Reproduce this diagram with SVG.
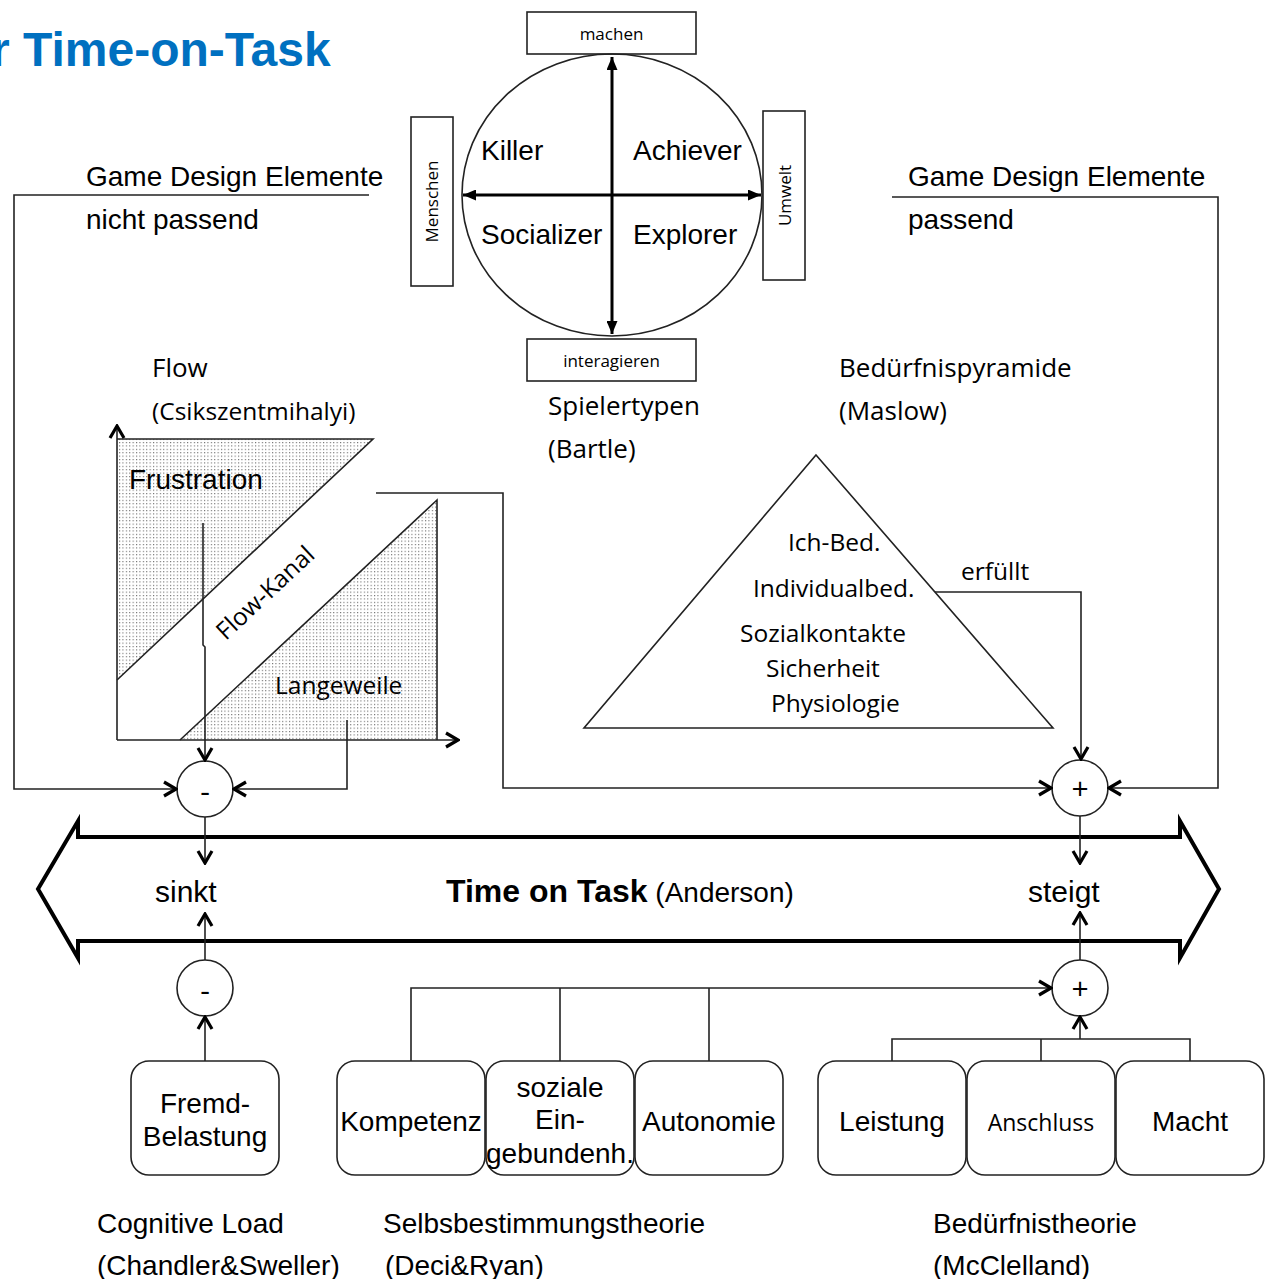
<svg xmlns="http://www.w3.org/2000/svg" width="1274" height="1279" viewBox="0 0 1274 1279">
<style>
.a{font-family:"Liberation Sans",Arial,sans-serif;font-size:28px;fill:#000}
.c{font-family:"Open Sans",sans-serif;font-size:24.5px;fill:#000}
.h{font-family:"Open Sans",sans-serif;font-size:26px;fill:#000}
.s{font-family:"Open Sans",sans-serif;font-size:17px;fill:#000}
.op{font-family:"Open Sans",sans-serif;font-size:30px;fill:#000;text-anchor:middle}
.ln{stroke:#222;stroke-width:1.6;fill:none}
.bx{fill:#fff;stroke:#222;stroke-width:1.6}
.mid{text-anchor:middle}
</style>
<defs>
<marker id="chev" viewBox="0 0 16 18" refX="14" refY="9" markerWidth="16" markerHeight="18" markerUnits="userSpaceOnUse" orient="auto">
<path d="M2,2 L14,9 L2,16" fill="none" stroke="#000" stroke-width="3.2"/>
</marker>
<marker id="tri" viewBox="0 0 13 11" refX="13" refY="5.5" markerWidth="13" markerHeight="11" markerUnits="userSpaceOnUse" orient="auto-start-reverse">
<path d="M0,0 L13,5.5 L0,11 Z" fill="#000"/>
</marker>
<pattern id="dots" width="3.4" height="3.4" patternUnits="userSpaceOnUse">
<rect x="0" y="0" width="1.1" height="1.1" fill="#666"/>
</pattern>
</defs>
<rect width="1274" height="1279" fill="#fff"/>

<g id="title">
<text x="-9" y="66" style="font-family:'Liberation Sans',Arial,sans-serif;font-size:48px;font-weight:bold;fill:#0070C0">r Time-on-Task</text>
</g>

<g id="bartle">
<rect class="bx" x="527" y="12" width="169" height="42"/>
<text class="s mid" x="611.5" y="40">machen</text>
<rect class="bx" x="527" y="339" width="169" height="42"/>
<text class="s mid" x="611.5" y="367">interagieren</text>
<rect class="bx" x="411" y="117" width="42" height="169"/>
<text class="s mid" transform="translate(438,201.5) rotate(-90)">Menschen</text>
<rect class="bx" x="763" y="111" width="42" height="169"/>
<text class="s mid" transform="translate(791,195.5) rotate(-90)">Umwelt</text>
<ellipse cx="612" cy="195" rx="150" ry="141" fill="none" stroke="#222" stroke-width="1.6"/>
<line x1="612" y1="57" x2="612" y2="334" stroke="#000" stroke-width="3" marker-start="url(#tri)" marker-end="url(#tri)"/>
<line x1="463" y1="195" x2="761" y2="195" stroke="#000" stroke-width="3" marker-start="url(#tri)" marker-end="url(#tri)"/>
<text class="a" x="481" y="160">Killer</text>
<text class="a" x="633" y="160">Achiever</text>
<text class="a" x="481" y="244">Socializer</text>
<text class="a" x="633" y="244">Explorer</text>
<text class="h" x="548" y="415">Spielertypen</text>
<text class="h" x="548" y="458">(Bartle)</text>
</g>

<g id="gde-left">
<text class="a" x="86" y="186">Game Design Elemente</text>
<text class="a" x="86" y="229">nicht passend</text>
</g>
<g id="gde-right">
<text class="a" x="908" y="186">Game Design Elemente</text>
<text class="a" x="908" y="229">passend</text>
</g>

<g id="flow">
<text class="h" x="152" y="377">Flow</text>
<text class="c" x="152" y="420">(Csikszentmihalyi)</text>
<polygon points="117,439 373,439 117,680" fill="url(#dots)"/>
<polyline class="ln" points="117,680 373,439 117,439"/>
<polygon points="180,740 437,500 437,740" fill="url(#dots)"/>
<polyline class="ln" points="180,740 437,500 437,740"/>
<line class="ln" x1="117" y1="740" x2="117" y2="426" stroke-width="2" marker-end="url(#chev)"/>
<line class="ln" x1="117" y1="740" x2="458" y2="740" stroke-width="2" marker-end="url(#chev)"/>
<text class="a" x="129" y="489">Frustration</text>
<text class="c mid" transform="translate(271,599) rotate(-43)">Flow-Kanal</text>
<text class="c" x="275" y="694">Langeweile</text>
</g>

<g id="maslow">
<text class="h" x="839" y="377">Bedürfnispyramide</text>
<text class="h" x="839" y="420">(Maslow)</text>
<polygon points="816,455 1053,728 584,728" fill="none" stroke="#222" stroke-width="1.6"/>
<text class="c" x="788" y="551">Ich-Bed.</text>
<text class="c" x="753" y="597">Individualbed.</text>
<text class="c" x="740" y="642">Sozialkontakte</text>
<text class="c" x="766" y="677">Sicherheit</text>
<text class="c" x="771" y="712">Physiologie</text>
<text class="c" x="961" y="580">erfüllt</text>
</g>

<g id="op-minus-top">
<circle cx="205" cy="789" r="28" fill="#fff" stroke="#222" stroke-width="1.6"/>
<text class="op" x="205" y="802">-</text>
</g>
<g id="op-plus-top">
<circle cx="1080" cy="788" r="28" fill="#fff" stroke="#222" stroke-width="1.6"/>
<text class="op" x="1080" y="799">+</text>
</g>
<g id="op-minus-bottom">
<circle cx="205" cy="988" r="28" fill="#fff" stroke="#222" stroke-width="1.6"/>
<text class="op" x="205" y="1001">-</text>
</g>
<g id="op-plus-bottom">
<circle cx="1080" cy="988" r="28" fill="#fff" stroke="#222" stroke-width="1.6"/>
<text class="op" x="1080" y="999">+</text>
</g>

<g id="time-on-task">
<path d="M78,837 H1180 V821 L1219,889 L1180,958 V941 H78 V958 L38,889 L78,821 Z" fill="none" stroke="#000" stroke-width="4"/>
<text class="a" x="155" y="902" style="font-size:30px">sinkt</text>
<text class="a" x="1028" y="902" style="font-size:30px">steigt</text>
<text class="a" x="446" y="902"><tspan style="font-weight:bold;font-size:32px">Time on Task</tspan> (Anderson)</text>
</g>

<g id="box-fremd">
<rect class="bx" x="131" y="1061" width="148" height="114" rx="18"/>
<text class="a mid" x="205" y="1113">Fremd-</text>
<text class="a mid" x="205" y="1146">Belastung</text>
</g>
<g id="box-kompetenz">
<rect class="bx" x="337" y="1061" width="148" height="114" rx="18"/>
<text class="a mid" x="411" y="1131">Kompetenz</text>
</g>
<g id="box-sozial">
<rect class="bx" x="486" y="1061" width="148" height="114" rx="18"/>
<text class="a mid" x="560" y="1097">soziale</text>
<text class="a mid" x="560" y="1129">Ein-</text>
<text class="a mid" x="560" y="1163">gebundenh.</text>
</g>
<g id="box-autonomie">
<rect class="bx" x="635" y="1061" width="148" height="114" rx="18"/>
<text class="a mid" x="709" y="1131">Autonomie</text>
</g>
<g id="box-leistung">
<rect class="bx" x="818" y="1061" width="148" height="114" rx="18"/>
<text class="a mid" x="892" y="1131">Leistung</text>
</g>
<g id="box-anschluss">
<rect class="bx" x="967" y="1061" width="148" height="114" rx="18"/>
<text class="c mid" x="1041" y="1131" style="font-size:23px">Anschluss</text>
</g>
<g id="box-macht">
<rect class="bx" x="1116" y="1061" width="148" height="114" rx="18"/>
<text class="a mid" x="1190" y="1131">Macht</text>
</g>

<g id="labels-bottom">
<text class="a" x="97" y="1233">Cognitive Load</text>
<text class="a" x="97" y="1275">(Chandler&amp;Sweller)</text>
<text class="a" x="383" y="1233">Selbsbestimmungstheorie</text>
<text class="a" x="385" y="1275">(Deci&amp;Ryan)</text>
<text class="a" x="933" y="1233">Bedürfnistheorie</text>
<text class="a" x="933" y="1275">(McClelland)</text>
</g>

<g id="connectors">
<path class="ln" d="M369,195 H14 V789 H176" marker-end="url(#chev)"/>
<path class="ln" d="M203,523 V645 L205,647 V760" marker-end="url(#chev)"/>
<path class="ln" d="M347,720 V789 H234" marker-end="url(#chev)"/>
<path class="ln" d="M376,493 H503 V788 H1051" marker-end="url(#chev)"/>
<path class="ln" d="M935,592 H1081 V759" marker-end="url(#chev)"/>
<path class="ln" d="M892,197 H1218 V788 H1109" marker-end="url(#chev)"/>
<path class="ln" d="M205,817 V863" marker-end="url(#chev)"/>
<path class="ln" d="M1080,816 V863" marker-end="url(#chev)"/>
<path class="ln" d="M205,960 V914" marker-end="url(#chev)"/>
<path class="ln" d="M1080,960 V913" marker-end="url(#chev)"/>
<path class="ln" d="M205,1061 V1017" marker-end="url(#chev)"/>
<path class="ln" d="M411,1061 V988 H1051" marker-end="url(#chev)"/>
<path class="ln" d="M560,1061 V988"/>
<path class="ln" d="M709,1061 V988"/>
<path class="ln" d="M892,1061 V1039 H1190 V1061"/>
<path class="ln" d="M1041,1039 V1061"/>
<path class="ln" d="M1080,1039 V1017" marker-end="url(#chev)"/>
</g>
</svg>
